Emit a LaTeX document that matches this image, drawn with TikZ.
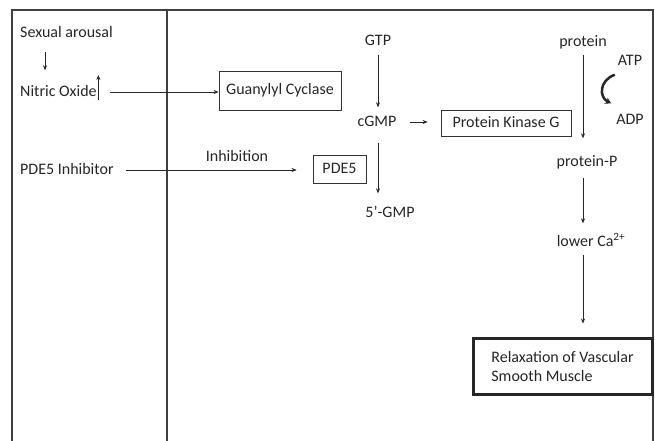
\documentclass[tikz,border=0pt]{standalone}
\usepackage{fontspec}
\setmainfont{Carlito}
\usetikzlibrary{arrows.meta}

\begin{document}
\begin{tikzpicture}[x=1pt, y=-1pt,
    every node/.style={font=\fontsize{16}{19}\selectfont, inner sep=0pt,
      text height=12pt, text depth=3pt, text=black!85},
    stepbox/.style={draw=black!80, line width=0.8pt},
    flow/.style={draw=black!85, line width=0.6pt, -{Stealth[length=5pt, width=4pt]}}]
    \useasboundingbox (0, 0) rectangle (655, 441);

    % frame and column divider
    \draw[draw=black!75, line width=1.4pt] (12, 441) -- (12, 10) -- (653, 10) -- (653, 441);
    \draw[draw=black!75, line width=1.2pt] (167, 10) -- (167, 441);

    % left column
    \node[anchor=west] (arousal) at (20, 33) {Sexual arousal};
    \node[anchor=west] (nitric) at (20, 92) {Nitric Oxide};
    \node[anchor=west] (inhibitor) at (20, 170) {PDE5 Inhibitor};

    % pathway
    \node[stepbox, minimum width=122pt, minimum height=39pt] (cyclase) at (280, 90.5) {Guanylyl Cyclase};
    \node[stepbox, minimum width=53pt, minimum height=28pt] (pde) at (339.5, 169) {PDE5};
    \node (inhibition) at (237, 157) {Inhibition};
    \node (gtp) at (378, 41) {GTP};
    \node (cgmp) at (377, 122) {cGMP};
    \node[stepbox, minimum width=130pt, minimum height=26pt] (kinase) at (506, 123) {Protein Kinase G};
    \node (gmp) at (390, 213) {5’-GMP};
    \node (protein) at (583, 42) {protein};
    \node (atp) at (630, 61) {ATP};
    \node (adp) at (630, 120) {ADP};
    \node (proteinp) at (587, 162) {protein-P};
    \node (calcium) at (591, 242) {lower Ca\textsuperscript{2+}};
    \node[draw=black!85, line width=3pt, minimum width=179pt, minimum height=56pt,
      align=left, text height=, text depth=] (relax) at (562.5, 366)
      {Relaxation of Vascular\\Smooth Muscle};

    % connectors
    \draw[flow] ([xshift=25pt, yshift=-11pt]arousal.south west)
      -- ([xshift=25pt, yshift=14pt]nitric.north west);
    \draw[flow] ([xshift=1.5pt, yshift=-8pt]nitric.east) -- ([xshift=1.5pt, yshift=17pt]nitric.east);
    \draw[flow, shorten <=13pt] (nitric.east) -- (nitric.east -| cyclase.west);
    \draw[flow, shorten <=12pt, shorten >=16pt] (inhibitor.east) -- (inhibitor.east -| pde.west);
    \draw[flow, shorten <=6pt, shorten >=7pt] (gtp.south) -- (gtp.south |- cgmp.north);
    \draw[flow, shorten <=13pt, shorten >=13pt] (cgmp.east) -- (cgmp.east -| kinase.west);
    \draw[flow, shorten <=13pt, shorten >=12pt] ([xshift=1pt]cgmp.south) -- ([xshift=1pt]cgmp.south |- gmp.north);
    \draw[flow, shorten <=5pt, shorten >=16pt] (protein.south) -- (protein.south |- proteinp.north);
    \draw[flow, shorten <=8pt, shorten >=11pt] (proteinp.south -| protein) -- (calcium.north -| protein);
    \draw[flow, shorten <=5pt, shorten >=13pt] (calcium.south -| protein) -- (relax.north -| protein);
    \draw[draw=black!85, line width=2.5pt, -{Stealth[length=6pt, width=7pt]}]
      ([xshift=-3pt, yshift=-6pt]atp.south west)
      .. controls +(-16, 6) and +(-12, -6) .. ([xshift=-5pt, yshift=9pt]adp.north west);
  \end{tikzpicture}
\end{document}
